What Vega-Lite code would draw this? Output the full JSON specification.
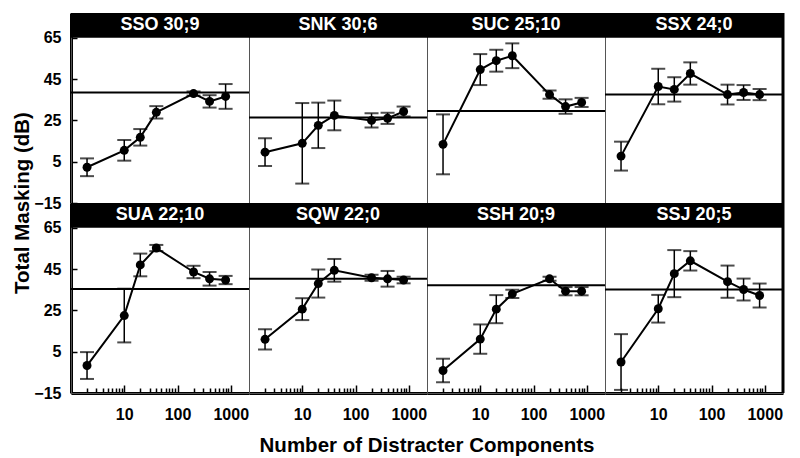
{
  "$schema": "https://vega.github.io/schema/vega-lite/v6.json",
  "padding": {"left": 12, "top": 11, "right": 5, "bottom": 5},
  "bounds": "flush",
  "data": {"values": [
    {"subject": "SSO", "label": "SSO 30;9", "ref": 38.5},
    {"subject": "SSO", "n": 2, "db": 2.3, "err": 4.3},
    {"subject": "SSO", "n": 10, "db": 10.5, "err": 5},
    {"subject": "SSO", "n": 20, "db": 16.8, "err": 4},
    {"subject": "SSO", "n": 40, "db": 28.9, "err": 3},
    {"subject": "SSO", "n": 200, "db": 38, "err": 1},
    {"subject": "SSO", "n": 400, "db": 34.2, "err": 3},
    {"subject": "SSO", "n": 800, "db": 36.6, "err": 6},
    {"subject": "SNK", "label": "SNK 30;6", "ref": 26.4},
    {"subject": "SNK", "n": 2, "db": 9.6, "err": 6.7},
    {"subject": "SNK", "n": 10, "db": 13.9, "err": 19.5},
    {"subject": "SNK", "n": 20, "db": 22.6, "err": 11},
    {"subject": "SNK", "n": 40, "db": 27.4, "err": 7.2},
    {"subject": "SNK", "n": 200, "db": 25, "err": 3.4},
    {"subject": "SNK", "n": 400, "db": 26, "err": 2.7},
    {"subject": "SNK", "n": 800, "db": 29.3, "err": 2.4},
    {"subject": "SUC", "label": "SUC 25;10", "ref": 29.5},
    {"subject": "SUC", "n": 2, "db": 13.4, "err": 14.5},
    {"subject": "SUC", "n": 10, "db": 49.6, "err": 7.5},
    {"subject": "SUC", "n": 20, "db": 53.9, "err": 5.3},
    {"subject": "SUC", "n": 40, "db": 56.3, "err": 6},
    {"subject": "SUC", "n": 200, "db": 37.5, "err": 2},
    {"subject": "SUC", "n": 400, "db": 31.7, "err": 3.5},
    {"subject": "SUC", "n": 800, "db": 33.7, "err": 2.2},
    {"subject": "SSX", "label": "SSX 24;0", "ref": 37.5},
    {"subject": "SSX", "n": 2, "db": 7.7, "err": 7},
    {"subject": "SSX", "n": 10, "db": 41.4, "err": 8.6},
    {"subject": "SSX", "n": 20, "db": 40, "err": 5.9},
    {"subject": "SSX", "n": 40, "db": 47.7, "err": 5.4},
    {"subject": "SSX", "n": 200, "db": 37.5, "err": 4.8},
    {"subject": "SSX", "n": 400, "db": 38.5, "err": 3.6},
    {"subject": "SSX", "n": 800, "db": 37.5, "err": 2.7},
    {"subject": "SUA", "label": "SUA 22;10", "ref": 35.4},
    {"subject": "SUA", "n": 2, "db": -1.7, "err": 6.5},
    {"subject": "SUA", "n": 10, "db": 22.5, "err": 13},
    {"subject": "SUA", "n": 20, "db": 47, "err": 5.5},
    {"subject": "SUA", "n": 40, "db": 55.2, "err": 1.5},
    {"subject": "SUA", "n": 200, "db": 43.6, "err": 3},
    {"subject": "SUA", "n": 400, "db": 40.3, "err": 3.3},
    {"subject": "SUA", "n": 800, "db": 39.7, "err": 2},
    {"subject": "SQW", "label": "SQW 22;0", "ref": 40.3},
    {"subject": "SQW", "n": 2, "db": 11, "err": 4.9},
    {"subject": "SQW", "n": 10, "db": 25.6, "err": 5.3},
    {"subject": "SQW", "n": 20, "db": 38, "err": 6.8},
    {"subject": "SQW", "n": 40, "db": 44.4, "err": 5.5},
    {"subject": "SQW", "n": 200, "db": 40.8, "err": 1.5},
    {"subject": "SQW", "n": 400, "db": 40.3, "err": 3.8},
    {"subject": "SQW", "n": 800, "db": 39.7, "err": 1.6},
    {"subject": "SSH", "label": "SSH 20;9", "ref": 37.2},
    {"subject": "SSH", "n": 2, "db": -4.1, "err": 5.7},
    {"subject": "SSH", "n": 10, "db": 11.1, "err": 7.1},
    {"subject": "SSH", "n": 20, "db": 25.6, "err": 6.8},
    {"subject": "SSH", "n": 40, "db": 33, "err": 2},
    {"subject": "SSH", "n": 200, "db": 40.3, "err": 1},
    {"subject": "SSH", "n": 400, "db": 34.3, "err": 2},
    {"subject": "SSH", "n": 800, "db": 34.3, "err": 2},
    {"subject": "SSJ", "label": "SSJ 20;5", "ref": 35.1},
    {"subject": "SSJ", "n": 2, "db": 0, "err": 13.5},
    {"subject": "SSJ", "n": 10, "db": 25.8, "err": 6.7},
    {"subject": "SSJ", "n": 20, "db": 42.8, "err": 11.4},
    {"subject": "SSJ", "n": 40, "db": 49, "err": 4.7},
    {"subject": "SSJ", "n": 200, "db": 38.9, "err": 7.8},
    {"subject": "SSJ", "n": 400, "db": 35.1, "err": 5.3},
    {"subject": "SSJ", "n": 800, "db": 32.2, "err": 5.8}
  ]},
  "transform": [
    {"calculate": "indexof(['SSO','SNK','SUC','SSX','SUA','SQW','SSH','SSJ'], datum.subject)", "as": "idx"},
    {"calculate": "floor(datum.idx / 4)", "as": "prow"},
    {"calculate": "datum.idx % 4", "as": "pcol"}
  ],
  "facet": {
    "row": {"field": "prow", "type": "ordinal", "header": {"title": "Total Masking (dB)", "labels": false, "titlePadding": -10}},
    "column": {"field": "pcol", "type": "ordinal", "header": {"title": "Number of Distracter Components", "titleOrient": "bottom", "labels": false, "titlePadding": 1}}
  },
  "spacing": {"row": 0, "column": 0},
  "spec": {
    "width": 178,
    "height": 190,
    "layer": [
      {
        "transform": [{"filter": "isValid(datum.ref)"}],
        "mark": {"type": "rect", "color": "black"},
        "encoding": {
          "x": {"datum": 1, "type": "quantitative", "scale": {"type": "log", "domain": [1, 2200], "nice": false},
                "axis": {"title": null, "values": [2,3,4,5,6,7,8,9,10,20,30,40,50,60,70,80,90,100,200,300,400,500,600,700,800,900,1000],
                         "labelExpr": "datum.value == 10 || datum.value == 100 || datum.value == 1000 ? format(datum.value, 'd') : ''",
                         "tickSize": {"condition": {"test": "datum.value == 10 || datum.value == 100 || datum.value == 1000", "value": -8}, "value": -5},
                         "labelPadding": 21, "labelOverlap": false, "labelFlush": false}},
          "x2": {"datum": 2200},
          "y": {"datum": 65, "type": "quantitative", "scale": {"domain": [-15, 77], "nice": false, "zero": false},
                "axis": {"title": null, "values": [-15, 5, 25, 45, 65], "tickSize": -6, "labelPadding": 16}},
          "y2": {"datum": 77}
        }
      },
      {
        "transform": [{"filter": "isValid(datum.ref)"}],
        "mark": {"type": "text", "color": "white", "font": "Liberation Sans", "fontWeight": "bold", "fontSize": 18, "baseline": "middle", "align": "center"},
        "encoding": {
          "x": {"datum": 47, "type": "quantitative"},
          "y": {"datum": 71, "type": "quantitative"},
          "text": {"field": "label"}
        }
      },
      {
        "transform": [{"filter": "isValid(datum.ref)"}],
        "mark": {"type": "rule", "color": "black", "strokeWidth": 2},
        "encoding": {
          "y": {"field": "ref", "type": "quantitative"}
        }
      },
      {
        "transform": [{"filter": "isValid(datum.ref) && datum.pcol == 3"}],
        "mark": {"type": "rule", "color": "black", "strokeWidth": 3},
        "encoding": {
          "x": {"datum": 2200, "type": "quantitative"}
        }
      },
      {
        "transform": [{"filter": "isValid(datum.n)"}],
        "mark": {"type": "errorbar", "color": "black", "thickness": 1.5, "ticks": {"size": 14, "thickness": 2}},
        "encoding": {
          "x": {"field": "n", "type": "quantitative"},
          "y": {"field": "db", "type": "quantitative"},
          "yError": {"field": "err"}
        }
      },
      {
        "transform": [{"filter": "isValid(datum.n)"}],
        "mark": {"type": "line", "color": "black", "strokeWidth": 2},
        "encoding": {
          "x": {"field": "n", "type": "quantitative"},
          "y": {"field": "db", "type": "quantitative"}
        }
      },
      {
        "transform": [{"filter": "isValid(datum.n)"}],
        "mark": {"type": "point", "filled": true, "color": "black", "opacity": 1, "size": 80},
        "encoding": {
          "x": {"field": "n", "type": "quantitative"},
          "y": {"field": "db", "type": "quantitative"}
        }
      }
    ]
  },
  "config": {
    "font": "Liberation Sans",
    "view": {"stroke": "#555", "strokeWidth": 1},
    "axis": {"labelFont": "Liberation Sans", "labelFontWeight": "bold", "labelFontSize": 16, "labelColor": "black",
             "domainColor": "black", "domainWidth": 3, "tickColor": "black", "tickWidth": 1.5, "grid": false},
    "header": {"titleFont": "Liberation Sans", "titleFontWeight": "bold", "titleFontSize": 20.5, "titleColor": "black"}
  }
}
